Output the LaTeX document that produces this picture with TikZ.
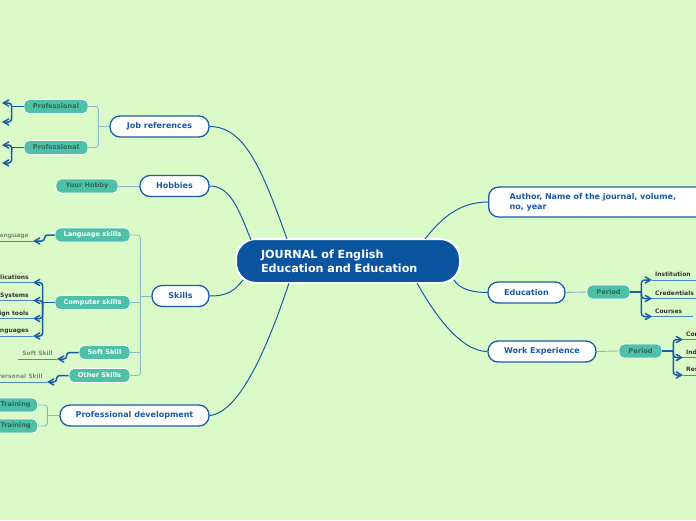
\documentclass[tikz,border=0pt]{standalone}
\usepackage{fontspec}
\setmainfont{DejaVu Sans}
\usetikzlibrary{arrows, calc}

\definecolor{bgcolor}{HTML}{DAFBC8}
\definecolor{navy}{HTML}{0B55A0}
\definecolor{topicblue}{HTML}{1C5AA6}
\definecolor{subfill}{HTML}{4FC0A8}
\definecolor{linkblue}{HTML}{8CB8C6}
\definecolor{leafline}{HTML}{4A88CC}
\definecolor{darktext}{HTML}{2E6A5E}
\definecolor{leafgray}{HTML}{7E8C76}
\definecolor{leafdark}{HTML}{333333}

\tikzset{
	topic/.style={draw=topicblue, line width=1.3pt, fill=white, rounded corners=10pt,
		minimum height=21pt, inner sep=0pt, text=topicblue,
		font=\fontsize{8}{10}\selectfont\bfseries},
	sub/.style={draw=white, line width=0.8pt, fill=subfill, rounded corners=5pt,
		minimum height=14pt, inner sep=0pt, font=\fontsize{6.6}{7.5}\selectfont\bfseries},
	leaf/.style={inner xsep=4pt, inner ysep=1.5pt, text height=4.8pt, text depth=1.5pt,
		font=\fontsize{6}{7}\selectfont\bfseries},
	branch/.style={draw=topicblue, line width=1pt},
	link/.style={draw=linkblue, line width=0.9pt, rounded corners=3pt},
	bracket/.style={draw=topicblue, line width=1.5pt, rounded corners=3pt, >=angle 60},
	uline/.style={draw=leafline, line width=0.7pt}
}

\begin{document}
\begin{tikzpicture}[x=1pt, y=-1pt]
	\fill [bgcolor] (0,0) rectangle (696,520);
	\useasboundingbox (0,0) rectangle (696,520);

	% central topic
	\node [draw=white, line width=2pt, fill=navy, rounded corners=20pt, minimum width=224pt,
		minimum height=44pt, text width=174pt, align=left, inner sep=0pt, text=white,
		font=\fontsize{11.2}{14}\selectfont\bfseries] (journal) at (348,261)
		{JOURNAL of English\\Education and Education};

	% main topics
	\node [topic, minimum width=99pt] (jobref) at (159.5,126.5) {Job references};
	\node [topic, minimum width=69pt] (hobbies) at (174.5,186) {Hobbies};
	\node [topic, minimum width=57pt] (skills) at (180.5,296) {Skills};
	\node [topic, minimum width=149pt] (profdev) at (134.5,415.5) {Professional development};
	\node [topic, anchor=west, minimum height=30pt, text width=180pt, align=left,
		inner xsep=21pt] (author) at (488,202) {Author, Name of the journal, volume,\\no, year};
	\node [topic, minimum width=77pt] (education) at (526.5,292.5) {Education};
	\node [topic, minimum width=108pt] (work) at (542,351.5) {Work Experience};

	\draw [branch] (jobref.east) .. controls +(35,0) and +(-25,-70) .. ([xshift=-61pt,yshift=22pt]journal.center);
	\draw [branch] (hobbies.east) .. controls +(21,0) and +(-12,-30) .. ([xshift=-97pt,yshift=21pt]journal.center);
	\draw [branch] (skills.east) .. controls +(19,0) and +(-8,10) .. ([xshift=-105pt,yshift=-19pt]journal.center);
	\draw [branch] (profdev.east) .. controls +(31,-3) and +(-20,60) .. ([xshift=-59pt,yshift=-22pt]journal.center);
	\draw [branch] ([xshift=77pt,yshift=22pt]journal.center) .. controls +(15,-19) and +(-30,0) .. (author.west);
	\draw [branch] ([xshift=106pt,yshift=-19pt]journal.center) .. controls +(6,10) and +(-13,0) .. (education.west);
	\draw [branch] ([xshift=69pt,yshift=-22pt]journal.center) .. controls +(15,27) and +(-28,0) .. (work.west);

	% subtopics
	\node [sub, minimum width=64pt, text=darktext] (prof1) at (56,106.5) {Professional};
	\node [sub, minimum width=64pt, text=darktext] (prof2) at (56,147.5) {Professional};
	\node [sub, minimum width=62pt, text=darktext] (hobby) at (87,186) {Your Hobby};
	\node [sub, minimum width=75pt, text=white] (lang) at (92.5,235) {Language skills};
	\node [sub, minimum width=75pt, text=white] (comp) at (92.5,302.5) {Computer skills};
	\node [sub, minimum width=51pt, text=white] (soft) at (104.5,352.5) {Soft Skill};
	\node [sub, minimum width=61pt, text=white] (other) at (99.5,375.5) {Other Skills};
	\node [sub, minimum width=44pt, anchor=east, text=darktext] (train1) at (38,405) {Training};
	\node [sub, minimum width=44pt, anchor=east, text=darktext] (train2) at (38,426) {Training};
	\node [sub, minimum width=43pt, text=darktext] (per1) at (608.5,292) {Period};
	\node [sub, minimum width=43pt, text=darktext] (per2) at (640.5,351) {Period};

	\draw [link] (prof1.east) -| ($(jobref.west)+(-11,0)$) |- (prof2.east);
	\draw [link] (jobref.west) -- ++(-11,0);
	\draw [link] (hobbies.west) -- (hobby.east);
	\draw [link] (lang.east) -| ($(skills.west)+(-11,0)$) |- (other.east);
	\draw [link] (comp.east) -- ++(11,0);
	\draw [link] (soft.east) -- ++(11,0);
	\draw [link] (skills.west) -- ++(-11,0);
	\draw [link] (train1.east) -| ($(profdev.west)+(-12,0)$) |- (train2.east);
	\draw [link] (profdev.west) -- ++(-12,0);
	\draw [link] (education.east) -- (per1.west);
	\draw [link] (work.east) -- (per2.west);

	% leaves, left side
	\coordinate (pl1) at (2,103);
	\coordinate (pl2) at (2,122);
	\coordinate (pl3) at (2,145);
	\coordinate (pl4) at (2,163);
	\draw [bracket] (prof1.west) -- ++(-12,0) coordinate (pj1);
	\draw [bracket, ->] (pj1) |- (pl1);
	\draw [bracket, ->] (pj1) |- (pl2);
	\draw [bracket] (prof2.west) -- ++(-12,0) coordinate (pj2);
	\draw [bracket, ->] (pj2) |- (pl3);
	\draw [bracket, ->] (pj2) |- (pl4);

	\node [leaf, anchor=south east, text=leafgray] (langleaf) at (33,241) {Language};
	\draw [uline] (langleaf.south east) -- (langleaf.south west);
	\draw [bracket, ->] (lang.west) -- ++(-10,0) |- (langleaf.south east);

	\node [leaf, anchor=south east, text=leafdark] (cl1) at (33,282.5) {Applications};
	\node [leaf, anchor=south east, text=leafdark] (cl2) at (33,300.5) {Operating Systems};
	\node [leaf, anchor=south east, text=leafdark] (cl3) at (33,318.5) {Design tools};
	\node [leaf, anchor=south east, text=leafdark] (cl4) at (33,336) {Programming Languages};
	\draw [bracket] (comp.west) -- ++(-12,0) coordinate (cj);
	\foreach \n in {cl1,cl2,cl3,cl4}{
		\draw [uline] (\n.south east) -- (\n.south west);
		\draw [bracket, ->] (cj) |- (\n.south east);
	}

	\node [leaf, anchor=south east, text=leafgray] (softleaf) at (57,359) {Soft Skill};
	\draw [uline] (softleaf.south east) -- (softleaf.south west);
	\draw [bracket, ->] (soft.west) -- ++(-12,0) |- (softleaf.south east);

	\node [leaf, anchor=south east, text=leafgray] (otherleaf) at (47,382) {Personal Skill};
	\draw [uline] (otherleaf.south east) -- (otherleaf.south west);
	\draw [bracket, ->] (other.west) -- ++(-12,0) |- (otherleaf.south east);

	% leaves, right side
	\node [leaf, anchor=south west, inner xsep=3pt, text=leafdark] (el1) at (652,280) {Institution};
	\node [leaf, anchor=south west, inner xsep=3pt, text=leafdark] (el2) at (652,298.5) {Credentials};
	\node [leaf, anchor=south west, inner xsep=3pt, text=leafdark] (el3) at (652,316.5) {Courses};
	\draw [bracket] (per1.east) -- ++(11,0) coordinate (ej);
	\foreach \n in {el1,el2,el3}{
		\draw [uline] (\n.south west) -- ([xshift=8pt]\n.south east);
		\draw [bracket, ->] (ej) |- (\n.south west);
	}

	\node [leaf, anchor=south west, inner xsep=3pt, text=leafdark] (wl1) at (683,339.5) {Company};
	\node [leaf, anchor=south west, inner xsep=3pt, text=leafdark] (wl2) at (683,357.5) {Industry};
	\node [leaf, anchor=south west, inner xsep=3pt, text=leafdark] (wl3) at (683,375) {Responsibilities};
	\draw [bracket] (per2.east) -- ++(11,0) coordinate (wj);
	\foreach \n in {wl1,wl2,wl3}{
		\draw [uline] (\n.south west) -- (\n.south east);
		\draw [bracket, ->] (wj) |- (\n.south west);
	}
\end{tikzpicture}
\end{document}
